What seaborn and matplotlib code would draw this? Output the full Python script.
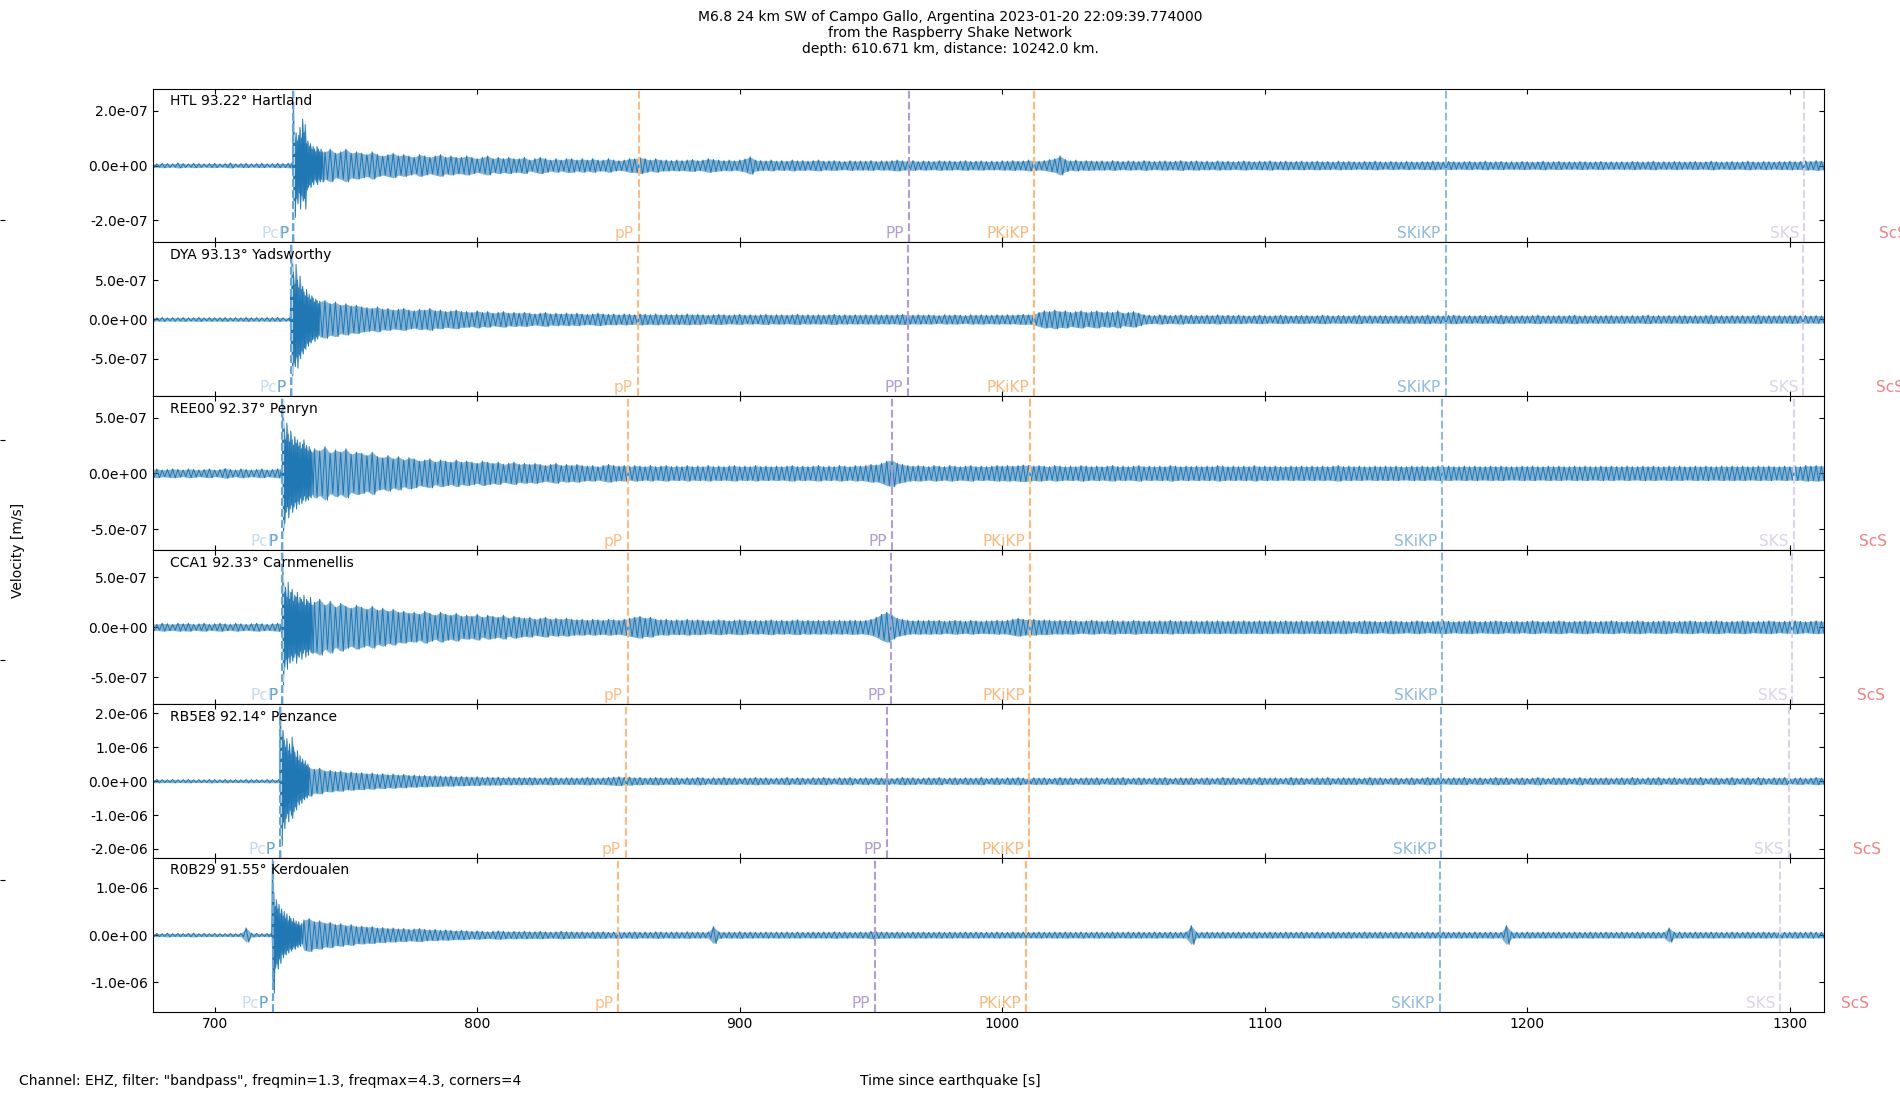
import numpy as np
import matplotlib
matplotlib.use("Agg")
import matplotlib.pyplot as plt
import matplotlib.transforms as mtransforms
from matplotlib.ticker import FormatStrFormatter, MultipleLocator
import seaborn as sns

# ---------------- data ----------------
title_lines = ["M6.8 24 km SW of Campo Gallo, Argentina 2023-01-20 22:09:39.774000",
               "from the Raspberry Shake Network",
               "depth: 610.671 km, distance: 10242.0 km."]
footer_text = 'Channel: EHZ, filter: "bandpass", freqmin=1.3, freqmax=4.3, corners=4'
xlabel_text = "Time since earthquake [s]"
ylabel_text = "Velocity [m/s]"

stations = ["HTL", "DYA", "REE00", "CCA1", "RB5E8", "R0B29"]
station_labels = ["HTL 93.22° Hartland", "DYA 93.13° Yadsworthy", "REE00 92.37° Penryn",
                  "CCA1 92.33° Carnmenellis", "RB5E8 92.14° Penzance", "R0B29 91.55° Kerdoualen"]

phase_names = ["PcP", "P", "pP", "PP", "PKiKP", "SKiKP", "SKS", "ScS"]
phase_colors = ["#c6dcef", "#64a6db", "#ffbb80", "#b39bd6", "#ffb878", "#8cbbe0", "#dcd3ea", "#f08282"]

arrivals_HTL = [730.2, 730.0, 861.5, 964.5, 1012.0, 1168.9, 1305.5, 1346.5]
arrivals_DYA = [729.3, 729.1, 861.1, 964.0, 1012.0, 1168.9, 1305.1, 1345.5]
arrivals_REE00 = [726.0, 725.8, 857.4, 958.0, 1010.6, 1167.5, 1301.4, 1338.8]
arrivals_CCA1 = [726.0, 725.8, 857.4, 957.5, 1010.6, 1167.5, 1300.9, 1338.3]
arrivals_RB5E8 = [725.1, 724.9, 856.5, 956.2, 1010.2, 1167.1, 1299.5, 1336.5]
arrivals_R0B29 = [722.4, 722.2, 853.7, 951.5, 1009.2, 1166.6, 1296.3, 1331.9]

# symmetric y-range of each panel [m/s]
ylim_half = [2.82e-7, 9.8e-7, 6.9e-7, 7.7e-7, 2.27e-6, 1.63e-6]
x_range = [676.5, 1313.0]
x_ticks_step = 100

# envelope (max/min) of each trace, every 2 s from 676 s, in 1e-8 m/s
env_start, env_step = 676.0, 2.0
amp_HTL = [
    0.7,0.6,0.8,0.7,0.6,0.9,0.7,0.6,0.8,0.7,0.6,0.7,0.8,0.6,0.7,0.9,0.6,0.7,0.8,0.6,
    0.7,0.8,0.6,0.7,0.8,0.7,0.8,20,15,12,8,7,6,5,6,4.5,5,6,4.5,5,
    4.5,4,5,4,3.5,4,4.5,3.5,4,3.5,3,4,3.5,3,3.5,4,3,3.5,3,3,
    3.5,3,2.5,3,3.5,2.5,3,2.5,3,2.5,2.5,3,2,2.5,3,2.5,2,2.5,2,2.5,
    2.5,2,2.5,2,2.5,2,2,2.5,2,1.8,2,2.5,2.5,3,2.5,2,2.5,2,2,1.8,
    2,1.8,2,2.2,1.8,2,2.5,2.2,2,1.8,2,1.7,2,2.4,3.2,2,1.8,1.7,2,1.6,
    1.8,1.6,2,1.7,1.8,1.6,1.8,2,1.6,1.7,1.8,1.6,1.5,1.8,1.6,1.7,1.6,1.8,1.5,1.7,
    1.6,1.8,2,1.7,1.6,1.8,1.5,1.7,1.6,1.5,1.8,1.6,1.7,1.5,1.6,1.8,1.5,1.6,1.7,1.5,
    1.6,1.5,1.7,1.6,1.8,1.6,1.7,2,1.8,1.6,1.8,2.2,2.5,3.5,2.2,1.7,2,1.6,1.8,1.7,
    1.6,1.7,1.5,1.8,1.6,1.5,1.7,1.6,1.5,1.8,1.6,1.5,1.6,1.7,1.5,1.6,1.8,1.5,1.6,1.7,
    1.5,1.6,1.4,1.7,1.5,1.6,1.4,1.5,1.7,1.5,1.4,1.6,1.5,1.7,1.4,1.5,1.6,1.4,1.5,1.6,
    1.4,1.5,1.6,1.4,1.5,1.3,1.6,1.4,1.5,1.4,1.3,1.5,1.4,1.6,1.4,1.3,1.5,1.4,1.3,1.5,
    1.4,1.3,1.5,1.4,1.6,1.4,1.3,1.5,1.4,1.3,1.4,1.5,1.3,1.4,1.6,1.3,1.4,1.5,1.3,1.4,
    1.3,1.5,1.4,1.3,1.4,1.6,1.3,1.4,1.5,1.3,1.4,1.3,1.5,1.4,1.3,1.4,1.5,1.3,1.4,1.3,
    1.4,1.3,1.5,1.4,1.3,1.4,1.6,1.3,1.4,1.3,1.5,1.4,1.3,1.4,1.5,1.3,1.4,1.6,1.4,1.3,
    1.4,1.5,1.3,1.4,1.6,1.4,1.3,1.5,1.4,1.3,1.5,1.4,1.6,1.4,1.5,1.7,1.5,1.8,1.6,1.7]
amp_DYA = [
    2.2,2,2.5,2,2.3,2.1,2.4,2,2.2,2.5,2,2.3,2.1,2.2,2.4,2,2.3,2.1,2.5,2.2,
    2.3,2,2.4,2.2,2.5,2.1,2.3,40,35,30,28,25,22,24,20,22,18,20,17,18,
    16,15,14,16,13,14,12,13,14,12,11,13,12,14,11,12,10,11,12,10,
    10,9,11,9,10,8,9,10,8,9,8,9,8,7,8,9,7,8,7,8,
    7,8,7,6.5,7,8,7,6.5,7,6,7,6.5,6,7,6.5,6,7,6,6.5,6,
    6.5,6,7,6,6.5,6,5.5,6,6.5,6,5.5,6,6.5,5.5,6,5.5,6,6.5,5.5,6,
    6,5.5,6,6.5,5.5,6,5.5,6,5.5,6,6.5,5.5,6,5.5,6,5.5,6,5.5,6,5.5,
    6,5.5,6,6.5,6,5.5,6,5.5,6,5.5,5,6,5.5,6,5.5,5,6,5.5,6,5.5,
    5.5,6,5.5,6,5.5,6,6.5,6,7,9,11,10,12,10,11,9,10,11,9,10,
    11,9,10,9,11,8,9,10,8,6,5.5,5,6,5.5,5,5.5,6,5,5.5,5,
    5,5.5,5,6,5,5.5,5,5.5,5,4.5,5,5.5,5,4.5,5,5.5,5,4.5,5,5,
    5,4.5,5,5.5,5,4.5,5,5,4.5,5,5.5,4.5,5,4.5,5,5,4.5,5,4.5,5,
    5,4.5,5,5.5,4.5,5,4.5,5,5.5,5,4.5,5,4.5,5,5,4.5,5,5.5,4.5,5,
    4.5,5,4.5,5,5.5,4.5,5,4.5,5,4.5,5,5.5,4.5,5,4.5,5,4.5,5,5,4.5,
    5,4.5,5,4.5,5,5.5,4.5,5,4.5,5,4.5,5,5,4.5,5,4.5,5,5.5,4.5,5,
    4.5,5,4.5,5,4.5,5,5.5,4.5,5,4.5,5,4.5,5,5,4.5,5,4.5,5,4.5,5]
amp_REE00 = [
    3.5,4,3,3.5,4,3.5,3,4,3.5,3,3.5,4,3,3.5,4.5,3.5,3,4,3.5,3,
    3.5,4,3,3.5,4,50,35,30,28,25,24,22,20,24,18,21,19,22,17,19,
    18,16,19,15,14,16,13,15,12,14,13,11,12,13,10,12,11,10,12,10,
    11,10,9,11,10,9,10,8,9,10,8,9,8,9,8,7,8,9,7,8,
    7,8,7,6.5,7,6,7,8,7,6.5,7,6,7,6.5,6,7,6,6.5,7,6,
    6.5,6,7,6,6.5,6,7,6,6.5,6,6.5,7,6,6.5,6,7,6,6.5,6,6.5,
    6,6.5,7,6,6.5,6,6.5,7,6,6.5,6,7,6.5,6,7,6.5,7,8,7.5,9,
    11,12,9,8,7,6.5,7,6.5,6,7,6.5,6,7,6.5,6,6.5,7,6,6.5,6,
    6.5,7,6.5,7,6.5,7,7.5,7,6.5,7,6.5,6,7,6.5,6,6.5,6,7,6.5,6,
    6.5,6,6.5,7,6,6.5,6,6.5,7,6,6.5,6,6.5,6,7,6.5,6,6.5,6,6.5,
    6,6.5,6,7,6.5,6,6.5,6,6.5,6,7,6,6.5,6,6.5,6,6,6.5,6,6.5,
    6,6.5,6,6.5,6,6.5,7,6,6.5,6,6.5,6,6,6.5,6,6.5,6,6.5,6,6,
    6.5,6,6.5,6,6,6.5,6,6.5,6,6,6.5,6,6.5,6,6,6.5,6,6.5,6,6,
    6,6.5,6,6.5,6,6,6.5,6,6.5,6,6,6.5,6,6.5,6,6,6.5,6,6.5,6,
    6,6.5,6,6,6.5,6,6.5,6,6,6.5,6,6.5,6,6,6.5,6,6.5,6,6,6.5,
    6,6.5,6,6.5,6,6,6.5,6,6.5,6,6,6.5,6,6.5,6,7,6.5,7,6.5,7]
amp_CCA1 = [
    3.5,3,4,3.5,3,4,3.5,4,3,3.5,4,3,3.5,4,3.5,3,4,3.5,3,3.5,
    4,3.5,3,3.5,4,45,35,30,30,28,26,25,28,22,26,20,24,21,19,22,
    20,18,21,17,19,16,18,15,16,14,15,13,16,14,12,15,13,12,14,11,
    12,11,13,10,12,11,10,12,9,11,10,9,10,8,9,10,8,9,8,9,
    8,7.5,8,7,8,7.5,7,8,7.5,7,8,9,10,11,9,10,8,7.5,8,7,
    7.5,7,8,7,7.5,7,6.5,7,7.5,7,6.5,7,7.5,7,6.5,7,6.5,7,7.5,6.5,
    7,6.5,7,7.5,6.5,7,6.5,7,6.5,7,6.5,7,6.5,7,7,6.5,7,8,10,13,
    15,12,9,8,7,6.5,7,6.5,7,6.5,7,6,6.5,7,6.5,6,7,6.5,6,6.5,
    6.5,7,6.5,7,8,9,8,7.5,8,7,7.5,7,6.5,7,6.5,7,6.5,6,6.5,7,
    6.5,6,6.5,7,6,6.5,6,7,6.5,6,6.5,6,6.5,6,7,6,6.5,6,6.5,6,
    6,6.5,6,6.5,6,6,6.5,6,6.5,6,6,6.5,6,6.5,6,6,6.5,6,6,6.5,
    6,6,6.5,6,6.5,6,6,6.5,6,5.5,6,6.5,6,6,5.5,6,6.5,6,6,5.5,
    6,6.5,6,5.5,6,6,6.5,6,5.5,6,6,6.5,6,5.5,6,6,6.5,6,5.5,6,
    6,5.5,6,6.5,6,5.5,6,6,6.5,6,5.5,6,6,6.5,6,5.5,6,6,6.5,6,
    5.5,6,6,6.5,6,5.5,6,6,6.5,6,5.5,6,6,6.5,6,5.5,6,6,6.5,6,
    5.5,6,6,6.5,6,5.5,6,6,6.5,6,5.5,6,6,6.5,6,5.5,6,6.5,6,6]
amp_RB5E8 = [
    4,5,4.5,4,5,4,4.5,5,4,4.5,4,5,4.5,4,5,4,4.5,4,5,4.5,
    4.5,4,5,4.5,100,120,90,80,60,45,40,35,38,30,32,28,30,25,27,24,
    25,22,24,20,22,19,21,18,20,17,18,16,17,15,16,15,14,15,13,14,
    13,12,13,11,12,11,12,10,11,10,11,10,11,10,9,10,11,10,9,10,
    10,9,10,11,10,9,10,11,12,13,11,12,10,11,9,10,11,10,9,10,
    10,8,10,9,11,10,8,10,9,11,9,10,8,10,9,11,9,10,8,9,
    9,11,8,10,9,8,10,9,11,9,8,10,9,11,8,9,10,8,10,9,
    10,8,9,11,9,10,8,9,10,9,11,8,9,10,8,10,9,9,11,8,
    9,10,8,10,9,11,9,8,10,9,10,8,9,11,9,10,8,9,10,9,
    10,8,9,10,9,11,8,9,10,9,8,10,9,11,8,9,10,9,10,8,
    9,10,8,9,11,9,10,8,9,10,8,11,9,9,10,8,9,11,9,10,
    8,9,10,9,11,8,9,10,9,10,8,9,11,9,10,8,9,10,8,9,
    10,8,9,11,9,10,8,9,10,9,11,8,9,10,8,9,11,9,10,8,
    9,10,8,9,11,9,8,10,9,10,8,9,11,8,10,9,9,10,8,9,
    10,8,11,9,8,10,9,11,8,9,10,8,9,10,9,11,8,9,10,8,
    9,11,8,9,10,8,11,9,8,10,9,11,8,9,10,8,9,11,9,10]
amp_R0B29 = [
    3,3.5,3,4,3,3.5,3,3.5,4,3,3.5,3,3.5,3,3,3.5,3,3.5,15,4,
    3.5,3,3.5,120,70,50,45,40,35,32,35,28,30,25,27,22,24,20,22,18,
    19,17,18,15,16,14,15,13,14,12,13,14,12,11,12,10,11,10,9,10,
    9,8,9,8,7,8,9,8,7,8,7,8,7,7,8,7,6.5,7,8,7,
    7,6.5,7,6,7,6.5,7,6,6.5,7,6,6.5,7,6,6.5,6,7,6.5,6,6.5,
    6.5,6,7,6,6.5,6,6.5,18,7,6,6.5,6,7,6,6.5,6,6,6.5,6,6.5,
    6,6.5,6,6.5,6,6,6.5,6,6.5,6,7,6,6.5,6,6,6.5,6,8,7,6.5,
    6.5,6,6.5,6,6,6.5,6,6.5,6,6,6.5,6,6.5,6,6,6.5,6,6.5,6,6,
    6,6.5,6,6,6.5,6,6.5,6,6,6.5,6,6,6.5,6,6.5,6,6,6.5,6,6,
    6.5,6,6,6.5,6,6,6.5,6,6.5,6,6,6.5,6,6,6.5,6,6,6.5,20,6,
    6,6.5,6,6,6.5,6,6,6.5,6,6,6.5,6,6,6.5,6,6,6.5,6,6,6.5,
    6,6,6.5,6,6,6.5,6,6,6.5,6,6,6.5,6,6,6.5,6,6,6.5,6,6,
    6.5,6,6,6.5,6,6,6.5,6,6,6.5,6,6,6.5,6,6,6.5,6,6,20,6.5,
    6,6,6.5,6,6,6.5,6,6,6.5,6,6,6.5,6,6,6.5,6,6,6.5,6,6,
    6.5,6,6,6.5,6,6,6.5,6,6,15,6,6.5,6,6,6.5,6,6,6.5,6,6,
    6,6.5,6,6,6.5,6,6,6.5,6,6,6.5,6,6,6.5,6,6,6.5,6,6,6.5]

# first-arrival detail: max/min every 0.5 s from onset_start, in 1e-8 m/s
onset_step = 0.5
onset_start = [729.5, 728.5, 725.5, 725.5, 724.5, 721.5]
onset_hi_HTL = [1, 23, 10, 12, 9, 11, 14, 10, 17, 12, 15, 8, 9, 7, 8, 6, 7, 6, 5, 7, 6, 5, 6, 5]
onset_lo_HTL = [-1, -15, -19, -12, -14, -10, -16, -11, -13, -12, -16, -9, -8, -7, -8, -6, -7, -5, -6, -7, -5, -6, -5, -6]
onset_hi_DYA = [2, 30, 88, 60, 45, 70, 50, 40, 55, 38, 42, 35, 30, 38, 28, 32, 25, 30, 27, 22, 26, 24, 20, 23]
onset_lo_DYA = [-2, -40, -72, -55, -60, -48, -62, -45, -50, -40, -44, -36, -38, -30, -34, -28, -30, -26, -24, -28, -22, -25, -20, -22]
onset_hi_REE00 = [4, 65, 40, 30, 45, 35, 28, 38, 30, 25, 33, 27, 30, 24, 28, 22, 26, 30, 22, 25, 20, 24, 21, 19]
onset_lo_REE00 = [-4, -58, -45, -35, -30, -40, -32, -28, -35, -30, -26, -32, -25, -28, -22, -27, -24, -20, -25, -22, -24, -20, -22, -19]
onset_hi_CCA1 = [4, 62, 35, 40, 30, 45, 28, 35, 38, 26, 32, 30, 35, 24, 30, 28, 25, 32, 22, 28, 26, 24, 30, 22]
onset_lo_CCA1 = [-4, -62, -40, -32, -42, -30, -36, -28, -34, -30, -26, -36, -28, -30, -24, -32, -26, -22, -30, -24, -28, -22, -25, -26]
onset_hi_RB5E8 = [5, 210, 130, 150, 120, 100, 125, 90, 110, 80, 130, 100, 85, 70, 90, 60, 75, 55, 65, 50, 60, 45, 50, 40]
onset_lo_RB5E8 = [-5, -150, -190, -120, -140, -110, -95, -120, -85, -100, -110, -90, -75, -85, -60, -70, -55, -65, -50, -55, -45, -50, -40, -45]
onset_hi_R0B29 = [3, 160, 90, 60, 75, 55, 65, 45, 55, 40, 50, 35, 45, 30, 40, 35, 28, 35, 25, 30, 22, 28, 20, 24]
onset_lo_R0B29 = [-3, -100, -123, -70, -60, -72, -50, -60, -40, -48, -38, -42, -32, -38, -28, -34, -30, -25, -30, -22, -26, -20, -24, -18]

amps = [amp_HTL, amp_DYA, amp_REE00, amp_CCA1, amp_RB5E8, amp_R0B29]
onset_his = [onset_hi_HTL, onset_hi_DYA, onset_hi_REE00, onset_hi_CCA1, onset_hi_RB5E8, onset_hi_R0B29]
onset_los = [onset_lo_HTL, onset_lo_DYA, onset_lo_REE00, onset_lo_CCA1, onset_lo_RB5E8, onset_lo_R0B29]
arrivals = [arrivals_HTL, arrivals_DYA, arrivals_REE00, arrivals_CCA1, arrivals_RB5E8, arrivals_R0B29]
unit = 1e-8


def envelope(amp, t_on, hi, lo):
    """Max/min envelope samples of one trace, sorted by time."""
    t_end = t_on + onset_step * len(hi)
    ts, top, bot = [], [], []
    for k, a in enumerate(amp):
        t = env_start + env_step * k
        if (t_on <= t < t_end) or (t_on <= t + env_step / 2 < t_end):
            continue
        ts.append(t); top.append(a); bot.append(-a)
    for j, (h, l) in enumerate(zip(hi, lo)):
        ts.append(t_on + onset_step * j); top.append(h); bot.append(l)
    order = np.argsort(ts, kind="stable")
    ts = np.asarray(ts, dtype=float)[order]
    top = np.asarray(top, dtype=float)[order] * unit
    bot = np.asarray(bot, dtype=float)[order] * unit
    return ts, top, bot


def zigzag(ts, top, bot):
    """Line that visits each max then each min (min/max decimated trace)."""
    dt = np.diff(np.append(ts, ts[-1] + env_step)) / 2
    x = np.column_stack([ts, ts + dt]).ravel()
    y = np.column_stack([top, bot]).ravel()
    return x, y


# ---------------- style ----------------
sns.set_style("ticks", rc={"axes.edgecolor": "black", "xtick.color": "black",
                           "ytick.color": "black", "text.color": "black",
                           "axes.labelcolor": "black",
                           "xtick.direction": "in", "ytick.direction": "in"})
plt.rcParams["font.family"] = ["DejaVu Sans"]
plt.rcParams["font.size"] = 10
plt.rcParams["xtick.labelsize"] = 10
plt.rcParams["ytick.labelsize"] = 10

trace_color = "#1f77b4"

fig = plt.figure(figsize=(19, 11), dpi=100)

# hidden full-figure axes (only its left tick marks show at the figure edge)
ax_bg = fig.add_axes([0, 0, 1, 1], frameon=False)
ax_bg.set_xlim(0, 1)
ax_bg.set_ylim(0, 1)
ax_bg.set_xticks([])
ax_bg.set_yticks([0.2, 0.4, 0.6, 0.8])
ax_bg.tick_params(axis="y", direction="in", labelleft=False, length=3.5, width=0.8)
ax_bg.set_zorder(-1)

axes = fig.subplots(len(stations), 1, sharex=True)
fig.subplots_adjust(left=0.0805, right=0.96, top=0.9195, bottom=0.08, hspace=0)

for i, ax in enumerate(axes):
    ts, top, bot = envelope(amps[i], onset_start[i], onset_his[i], onset_los[i])
    ax.fill_between(ts, bot, top, color=trace_color, alpha=0.55, linewidth=0)
    zx, zy = zigzag(ts, top, bot)
    sns.lineplot(x=zx, y=zy, ax=ax, color=trace_color, linewidth=0.7,
                 estimator=None, sort=False, legend=False)
    trans = mtransforms.blended_transform_factory(ax.transData, ax.transAxes)
    for name, col, ta in zip(phase_names, phase_colors, arrivals[i]):
        ax.axvline(ta, color=col, linestyle="--", linewidth=1.5, zorder=3)
        ax.annotate(name, xy=(ta, 0.0), xycoords=trans, xytext=(-3.6, 1.0),
                    textcoords="offset points", ha="right", va="bottom",
                    color=col, fontsize=11, annotation_clip=False, zorder=4)
    ax.text(0.01, 0.965, station_labels[i], transform=ax.transAxes,
            ha="left", va="top", fontsize=10)
    ax.set_xlim(*x_range)
    ax.set_ylim(-ylim_half[i], ylim_half[i])
    ax.yaxis.set_major_formatter(FormatStrFormatter("%.1e"))
    ax.xaxis.set_major_locator(MultipleLocator(x_ticks_step))
    ax.tick_params(direction="in", top=True, bottom=True, left=True, right=True,
                   length=3.5, width=0.8)
    ax.set_xlabel("")
    ax.set_ylabel("")
    for s in ax.spines.values():
        s.set_visible(True)
        s.set_color("black")
        s.set_linewidth(0.8)

fig.text(0.5, 0.991, "\n".join(title_lines), ha="center", va="top", fontsize=10)
fig.text(0.01, 0.0173, footer_text, ha="left", va="center", fontsize=10)
fig.text(0.5, 0.0173, xlabel_text, ha="center", va="center", fontsize=10)
fig.text(0.0095, 0.5, ylabel_text, ha="center", va="center", rotation=90, fontsize=10)

fig.savefig("out.png", dpi=100)
